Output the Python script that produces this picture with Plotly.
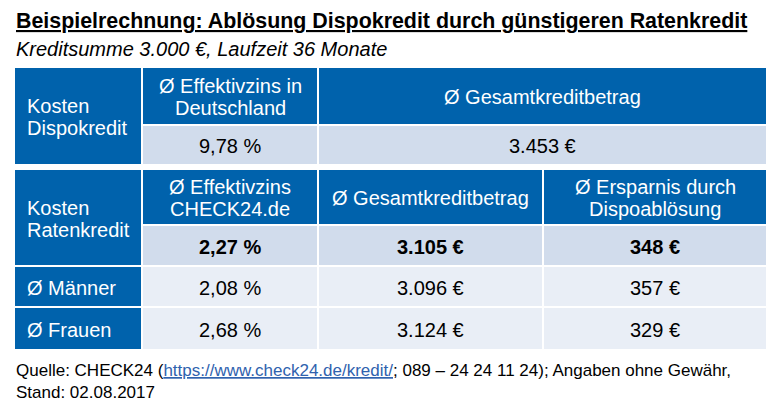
import plotly.graph_objects as go

# --- data ---------------------------------------------------------------
title = "Beispielrechnung: Ablösung Dispokredit durch günstigeren Ratenkredit"
subtitle = "Kreditsumme 3.000 €, Laufzeit 36 Monate"

dispo_label = "Kosten<br>Dispokredit"
dispo_headers = ["Ø Effektivzins in<br>Deutschland", "Ø Gesamtkreditbetrag"]
dispo_values = ["9,78 %", "3.453 €"]

raten_label = "Kosten<br>Ratenkredit"
raten_headers = ["Ø Effektivzins<br>CHECK24.de", "Ø Gesamtkreditbetrag",
                 "Ø Ersparnis durch<br>Dispoablösung"]
raten_avg = ["2,27 %", "3.105 €", "348 €"]

groups = ["Ø Männer", "Ø Frauen"]
group_zins = ["2,08 %", "2,68 %"]
group_gesamt = ["3.096 €", "3.124 €"]
group_ersparnis = ["357 €", "329 €"]

source_url = "https://www.check24.de/kredit/"
source_rest = "; 089 – 24 24 11 24); Angaben ohne Gewähr,"
source_date = "Stand: 02.08.2017"

# --- style / layout -----------------------------------------------------
W, H = 770, 412
FONT = "Liberation Sans, Arial, sans-serif"
BLUE = "#0062AC"
LIGHT = "#D1DCEC"
LIGHTER = "#E9EEF6"
LINK = "#2F62AE"

col_x = [14, 142, 318, 543, 767]
rows_dispo = [67, 125, 165]
rows_raten = [169, 225, 266, 307, 350]
LINE_GAP = 22

fig = go.Figure()
fig.add_trace(go.Scatter(x=[0, W], y=[0, H], mode="markers",
                         marker=dict(opacity=0), hoverinfo="skip"))


def cell(x0, x1, y0, y1, fill, text, color, bold=False, align="center", size=20):
    fig.add_shape(type="rect", x0=x0, x1=x1, y0=y0, y1=y1, fillcolor=fill,
                  line=dict(color="white", width=2), layer="below")
    lines = text.split("<br>")
    n = len(lines)
    cy = (y0 + y1) / 2 + 1
    for i, ln in enumerate(lines):
        t = f"<b>{ln}</b>" if bold else ln
        y = cy + (i - (n - 1) / 2) * LINE_GAP
        if align == "left":
            fig.add_annotation(x=x0 + 11, y=y, text=t, xanchor="left", yanchor="middle",
                               showarrow=False, font=dict(color=color, size=size, family=FONT))
        else:
            fig.add_annotation(x=(x0 + x1) / 2, y=y, text=t, xanchor="center", yanchor="middle",
                               showarrow=False, font=dict(color=color, size=size, family=FONT))


# Dispokredit block
cell(col_x[0], col_x[1], rows_dispo[0], rows_dispo[2], BLUE, dispo_label, "white", align="left")
cell(col_x[1], col_x[2], rows_dispo[0], rows_dispo[1], BLUE, dispo_headers[0], "white")
cell(col_x[2], col_x[4], rows_dispo[0], rows_dispo[1], BLUE, dispo_headers[1], "white")
cell(col_x[1], col_x[2], rows_dispo[1], rows_dispo[2], LIGHT, dispo_values[0], "black")
cell(col_x[2], col_x[4], rows_dispo[1], rows_dispo[2], LIGHT, dispo_values[1], "black")

# Ratenkredit block
cell(col_x[0], col_x[1], rows_raten[0], rows_raten[2], BLUE, raten_label, "white", align="left")
for j, h in enumerate(raten_headers):
    cell(col_x[j + 1], col_x[j + 2], rows_raten[0], rows_raten[1], BLUE, h, "white")
for j, v in enumerate(raten_avg):
    cell(col_x[j + 1], col_x[j + 2], rows_raten[1], rows_raten[2], LIGHT, v, "black", bold=True)

for i, g in enumerate(groups):
    y0, y1 = rows_raten[i + 2], rows_raten[i + 3]
    cell(col_x[0], col_x[1], y0, y1, BLUE, g, "white", align="left")
    for j, v in enumerate([group_zins[i], group_gesamt[i], group_ersparnis[i]]):
        cell(col_x[j + 1], col_x[j + 2], y0, y1, LIGHTER, v, "black")

# titles
fig.add_annotation(x=14, y=21, xanchor="left", yanchor="middle", showarrow=False,
                   text=f"<b><span style='text-decoration:underline'>{title}</span></b>",
                   font=dict(size=21.4, color="black", family=FONT))
fig.add_annotation(x=14, y=49, xanchor="left", yanchor="middle", showarrow=False,
                   text=f"<i>{subtitle}</i>", font=dict(size=20, color="black", family=FONT))

# source
fig.add_annotation(x=14, y=370, xanchor="left", yanchor="middle", showarrow=False,
                   text=("Quelle: CHECK24 (<span style='color:%s;text-decoration:underline'>%s</span>%s"
                         % (LINK, source_url, source_rest)),
                   font=dict(size=17, color="black", family=FONT))
fig.add_annotation(x=14, y=392, xanchor="left", yanchor="middle", showarrow=False,
                   text=source_date, font=dict(size=17, color="black", family=FONT))

fig.update_xaxes(range=[0, W], visible=False, fixedrange=True)
fig.update_yaxes(range=[H, 0], visible=False, fixedrange=True)
fig.update_layout(width=W, height=H, margin=dict(l=0, r=0, t=0, b=0),
                  plot_bgcolor="white", paper_bgcolor="white", showlegend=False)

fig.write_html("out.html", config=dict(displayModeBar=False),
               post_script="document.body.style.margin='0';")
